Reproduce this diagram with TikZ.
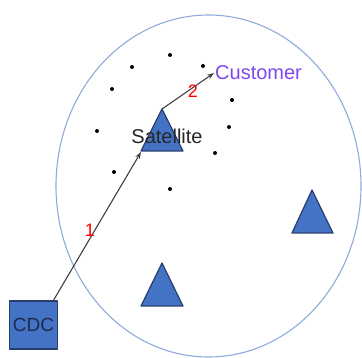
\documentclass[tikz,border=0pt]{standalone}
\usepackage{fontspec}
\setmainfont{Liberation Sans}
\usepackage{tikz}
\usetikzlibrary{arrows}
\usetikzlibrary{arrows.meta}

\definecolor{boxblue}{RGB}{68,114,196}
\definecolor{edgeblue}{RGB}{40,62,110}
\definecolor{ringblue}{RGB}{143,170,220}
\definecolor{custviolet}{RGB}{125,70,240}

\tikzset{
  depot/.style={draw=edgeblue,line width=1.2pt,fill=boxblue,minimum size=48pt,inner sep=0pt,text=edgeblue!70!black,font=\fontsize{19}{19}\selectfont},
  hub/.style={draw=edgeblue,line width=1.2pt,fill=boxblue},
  route/.style={draw=black!75,line width=1.1pt,-{Stealth[length=7pt,width=5pt]}},
  legno/.style={text=red,font=\fontsize{18}{18}\selectfont,inner sep=0pt},
  client/.style={circle,fill=black,inner sep=0pt,minimum size=4pt}
}

\begin{document}
\begin{tikzpicture}[line cap=round,line join=round,x=1pt,y=-1pt]
\useasboundingbox (0,0) rectangle (362,358);
\draw [ringblue,line width=1.1pt] (208.5,186) ellipse (152.5 and 171);
% customers
\foreach \cx/\cy [count=\i] in {170/55,132/67,203/66,112/89,232/100,97/131,229/127,215/153,114/172,170/189}
  \node[client] (c\i) at (\cx,\cy) {};
% satellites
\coordinate (satapex) at (162,109);
\coordinate (satin) at (141,152);
\fill[hub] (satapex) -- (141,151) -- (183,151) -- cycle;
\fill[hub] (162,263) -- (141,306) -- (183,306) -- cycle;
\fill[hub] (312,190) -- (292,233) -- (333,233) -- cycle;
\node[font=\fontsize{20}{20}\selectfont,text=black!85,inner sep=0pt] (sat) at (167,136) {Satellite};
\node[anchor=west,font=\fontsize{20}{20}\selectfont,text=custviolet,inner sep=1pt] (cust) at (214,73) {Customer};
% depot
\node[depot] (cdc) at (33.5,325) {CDC};
\draw[route] (cdc.51) -- (satin);
\draw[route] (satapex) -- (cust.west);
\node[legno] (one) at (90,230) {1};
\node[legno] (two) at (193,91) {2};
\end{tikzpicture}
\end{document}
